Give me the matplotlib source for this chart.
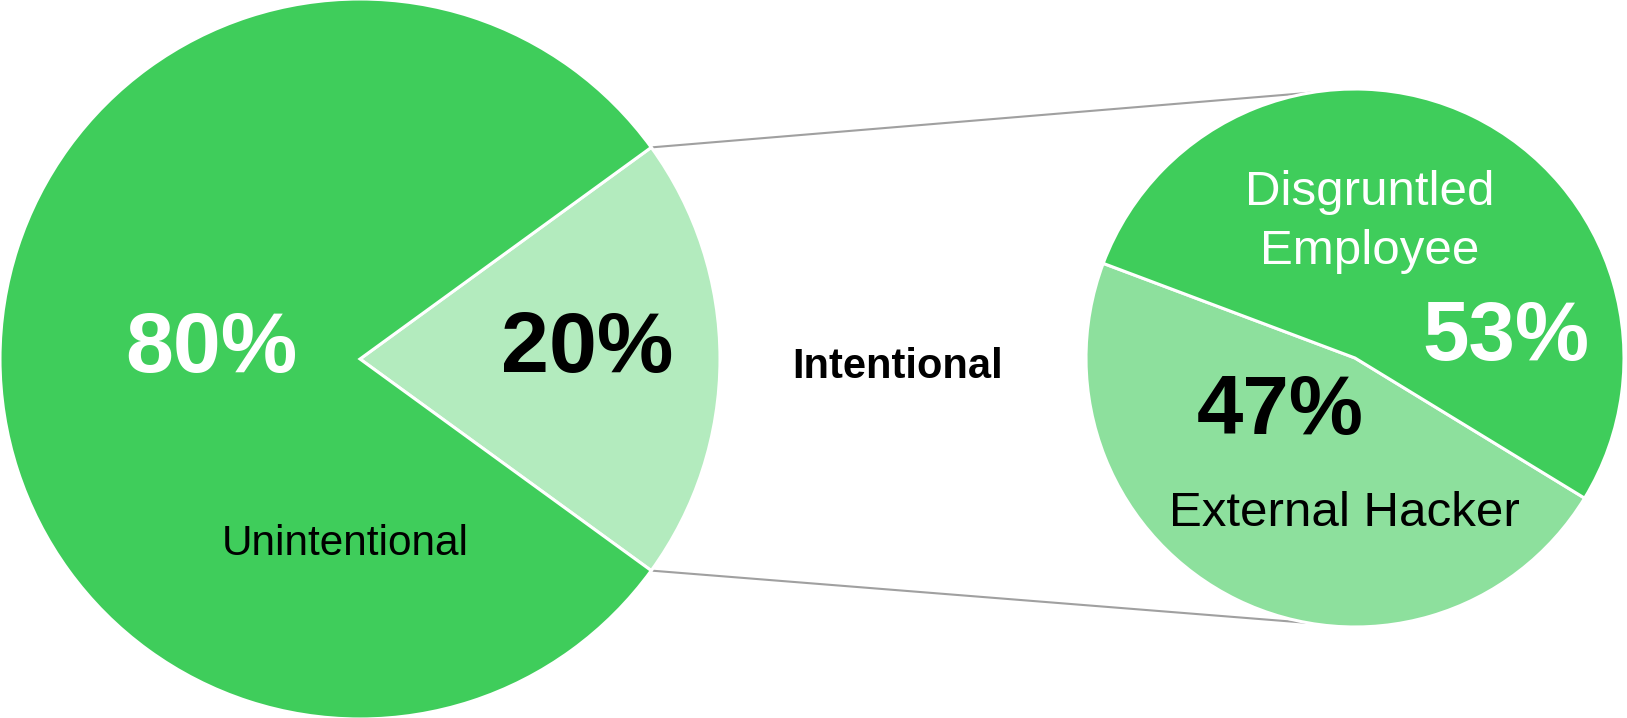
import numpy as np
import matplotlib
matplotlib.use("Agg")
import matplotlib.pyplot as plt

plt.rcParams["font.family"] = ["Liberation Sans", "DejaVu Sans"]

# data
main_labels = ["Intentional", "Unintentional"]
main_values = [20, 80]
sub_labels = ["External Hacker", "Disgruntled\nEmployee"]
sub_values = [47, 53]

green = "#3FCD5B"
light_main = "#B3EBBE"
light_sub = "#8DE09D"

W, H = 1627, 718
fig = plt.figure(figsize=(W / 100, H / 100), dpi=100)
ax = fig.add_axes([0, 0, 1, 1])

# left pie
c1 = (360, 359)
r1 = 360
half = 360 * main_values[0] / sum(main_values) / 2
ax.pie(main_values, colors=[light_main, green], startangle=-half,
       center=c1, radius=r1, frame=True,
       wedgeprops=dict(edgecolor="white", linewidth=2.2))

# right pie (detail of the intentional slice)
c2 = (1355, 360)
r2 = 269
span = 360 * sub_values[0] / sum(sub_values)
ax.pie(sub_values, colors=[light_sub, green], startangle=244 - span / 2,
       center=c2, radius=r2, frame=True,
       wedgeprops=dict(edgecolor="white", linewidth=2.2))
ax.set_xlim(0, W)
ax.set_ylim(0, H)
ax.set_aspect("equal")
ax.axis("off")

# connector lines
for sgn, ang in [(1, 99.5), (-1, 260)]:
    a = np.deg2rad(sgn * half)
    x0 = c1[0] + r1 * np.cos(a)
    y0 = c1[1] + r1 * np.sin(a)
    b = np.deg2rad(ang)
    x1 = c2[0] + r2 * np.cos(b)
    y1 = c2[1] + r2 * np.sin(b)
    ax.plot([x0, x1], [y0, y1], color="#A0A0A0", lw=1.5, zorder=0)

# labels
big = 62
ax.text(211, H - 350, f"{main_values[1]}%", color="white", fontsize=big,
        fontweight="bold", ha="center", va="center")
ax.text(587, H - 350, f"{main_values[0]}%", color="black", fontsize=big,
        fontweight="bold", ha="center", va="center")
ax.text(345, H - 544, main_labels[1], color="black", fontsize=30.5,
        ha="center", va="center")
ax.text(898, H - 367, main_labels[0], color="black", fontsize=30,
        fontweight="bold", ha="center", va="center")

ax.text(1370, H - 222, sub_labels[1], color="white", fontsize=35.5,
        ha="center", va="center", linespacing=1.38)
ax.text(1506, H - 338, f"{sub_values[1]}%", color="white", fontsize=60,
        fontweight="bold", ha="center", va="center")
ax.text(1280, H - 412, f"{sub_values[0]}%", color="black", fontsize=60,
        fontweight="bold", ha="center", va="center")
ax.text(1344, H - 514, sub_labels[0], color="black", fontsize=35.5,
        ha="center", va="center")

fig.savefig("out.png", dpi=100, facecolor="white")
